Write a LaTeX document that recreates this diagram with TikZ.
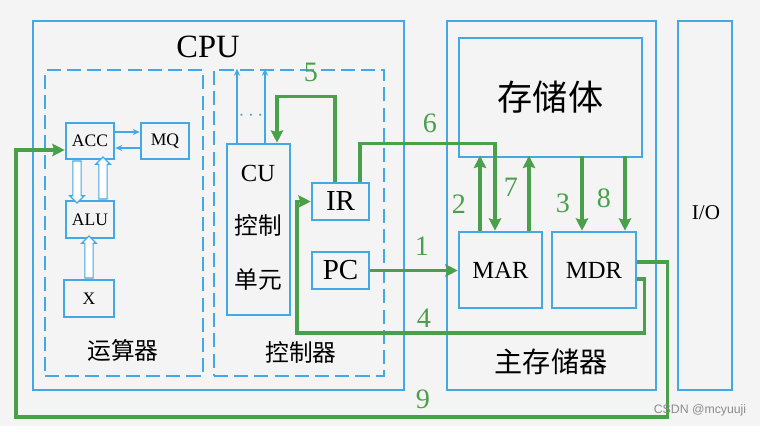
\documentclass[tikz,border=0pt]{standalone}
\usepackage{fontspec}
\setmainfont{Liberation Serif}
\newfontfamily\cjk{Noto Sans CJK SC}
\newfontfamily\wmfont{Liberation Sans}
\usetikzlibrary{shapes.arrows,arrows.meta}
\definecolor{kasten}{RGB}{66,168,230}
\definecolor{fluss}{RGB}{74,160,74}
\definecolor{grund}{RGB}{244,244,245}

\begin{document}
\begin{tikzpicture}[x=0.02cm,y=-0.02cm,>={Stealth[length=7pt,width=7pt,inset=1pt]}]
	\tikzstyle{every node}=[font=\fontsize{10}{10}\selectfont]
	\tikzstyle{kiste}=[draw=kasten,line width=1.5pt,inner sep=0pt]
	\tikzstyle{strich}=[draw=kasten,line width=1.2pt,dash pattern=on 8pt off 3.5pt]
	\tikzstyle{bus}=[draw=fluss,line width=2pt]
	\tikzstyle{duenn}=[draw=kasten,line width=0.8pt,-{Stealth[length=4pt,width=3.5pt]}]
	\tikzstyle{hohl}=[single arrow,draw=kasten,fill=white,line width=0.7pt,inner sep=2pt,single arrow head extend=1.8pt,minimum height=0.84cm]
	\tikzstyle{nr}=[text=fluss,font=\fontsize{16}{16}\selectfont]
	
	%Hintergrund
	\fill[grund] (0,0) rectangle (760,426);
	
	%Kästen CPU
	\node[kiste,minimum width=7.42cm,minimum height=7.38cm] (cpu) at (218.5,205.5) {};
	\node[font=\fontsize{18.5}{18.5}\selectfont] (cput) at (208,47) {CPU};
	\node[strich,minimum width=3.16cm,minimum height=6.12cm] (rw) at (124,223) {};
	\node[strich,minimum width=3.4cm,minimum height=6.12cm] (sw) at (299,223) {};
	\node[font=\cjk\fontsize{13.5}{13.5}\selectfont] (rwt) at (123,350) {运算器};
	\node[font=\cjk\fontsize{13.5}{13.5}\selectfont] (swt) at (301,352) {控制器};
	
	\node[kiste,minimum width=0.96cm,minimum height=0.72cm] (acc) at (90,141) {ACC};
	\node[kiste,minimum width=0.96cm,minimum height=0.72cm] (mq) at (165,141) {MQ};
	\node[kiste,minimum width=0.96cm,minimum height=0.74cm] (alu) at (90,219.5) {ALU};
	\node[kiste,minimum width=1.0cm,minimum height=0.74cm] (x) at (89,298.5) {X};
	
	\node[kiste,minimum width=1.26cm,minimum height=3.42cm] (cu) at (258.5,229.5) {};
	\node[font=\fontsize{14}{14}\selectfont] (cut) at (258,173) {CU};
	\node[font=\cjk\fontsize{13.5}{13.5}\selectfont] (cut2) at (258,225) {控制};
	\node[font=\cjk\fontsize{13.5}{13.5}\selectfont] (cut3) at (258,280) {单元};
	\node[text=kasten,font=\fontsize{12}{12}\selectfont] (pkt) at (251,116) {$\cdots$};
	\node[kiste,minimum width=1.14cm,minimum height=0.74cm,font=\fontsize{16.5}{16.5}\selectfont] (ir) at (340.5,201.5) {IR};
	\node[kiste,minimum width=1.14cm,minimum height=0.74cm,font=\fontsize{16.5}{16.5}\selectfont] (pc) at (340.5,270.5) {PC};
	
	%Hauptspeicher und I/O
	\node[kiste,minimum width=4.18cm,minimum height=7.38cm] (hs) at (551.5,205.5) {};
	\node[kiste,minimum width=3.66cm,minimum height=2.38cm,font=\cjk\fontsize{20}{20}\selectfont] (kern) at (550.5,97.5) {存储体};
	\node[kiste,minimum width=1.66cm,minimum height=1.52cm,font=\fontsize{14}{14}\selectfont] (mar) at (500.5,270) {MAR};
	\node[kiste,minimum width=1.68cm,minimum height=1.52cm,font=\fontsize{14}{14}\selectfont] (mdr) at (594,270) {MDR};
	\node[font=\cjk\fontsize{16}{16}\selectfont] (hst) at (551,362) {主存储器};
	\node[kiste,minimum width=1.08cm,minimum height=7.38cm] (io) at (705,205.5) {};
	\node[font=\fontsize{12}{12}\selectfont] (iot) at (706,213) {I/O};
	
	%Pfeile innen
	\draw[duenn] ([yshift=0.18cm]acc.east) -- ([yshift=0.18cm]mq.west);
	\draw[duenn] ([yshift=-0.14cm]mq.west) -- ([yshift=-0.14cm]acc.east);
	\node[hohl,shape border rotate=270] (a1) at (77,180) {};
	\node[hohl,shape border rotate=90] (a2) at (103,180) {};
	\node[hohl,shape border rotate=90] (a3) at (89,259) {};
	\draw[duenn] ([xshift=-0.43cm]cu.north) -- ++(0,-74);
	\draw[duenn] ([xshift=0.13cm]cu.north) -- ++(0,-74);
	
	%Datenpfade
	\draw[bus,->] (pc.east) -- (pc.east -| mar.west);
	\draw[bus,->] ([xshift=-0.41cm]mar.north) -- ++(0,-75);
	\draw[bus,<-] ([xshift=-0.24cm]mdr.north) -- ++(0,-75);
	\draw[bus,->] ([yshift=-0.18cm]mdr.east) -- ++(7,0) |- (297,333) |- (ir.west);
	\draw[bus,->] ([xshift=-0.11cm]ir.north) -- ++(0,-85) -| ([xshift=0.37cm]cu.north);
	\draw[bus,->] ([xshift=0.39cm]ir.north) -- ++(0,-38) -| ([xshift=-0.11cm]mar.north);
	\draw[bus,->] ([xshift=0.57cm]mar.north) -- ++(0,-75);
	\draw[bus,<-] ([xshift=0.62cm]mdr.north) -- ++(0,-75);
	\draw[bus,->] ([yshift=0.16cm]mdr.east) -- ++(30,0) |- (16,417) |- ([yshift=-0.18cm]acc.west);
	
	%Nummern
	\node[nr] (n1) at (422,246) {1};
	\node[nr] (n2) at (459,204) {2};
	\node[nr] (n3) at (563,203) {3};
	\node[nr] (n4) at (424,318) {4};
	\node[nr] (n5) at (311,72) {5};
	\node[nr] (n6) at (430,123) {6};
	\node[nr] (n7) at (511,187) {7};
	\node[nr] (n8) at (604,198) {8};
	\node[nr] (n9) at (423,399) {9};
	
	\node[text=black!45,font=\wmfont\fontsize{7}{7}\selectfont] (wm) at (700,410) {CSDN @mcyuuji};
	
\end{tikzpicture}
\end{document}
